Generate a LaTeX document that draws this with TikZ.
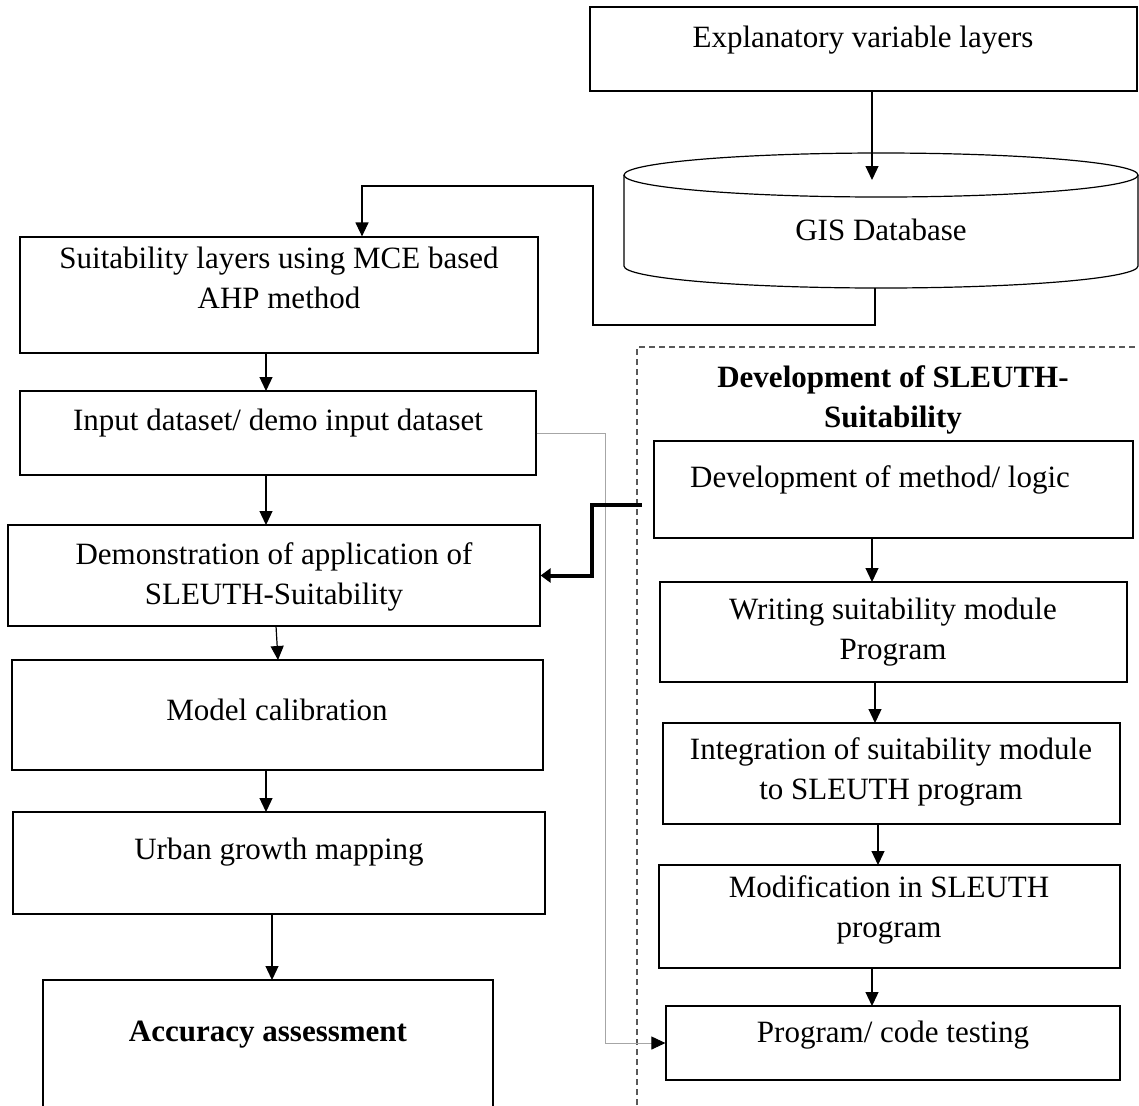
\documentclass[tikz,border=0pt]{standalone}
\usepackage{fontspec}
\setmainfont{Liberation Serif}
\usetikzlibrary{arrows.meta,fit}

\tikzset{
  box/.style={draw, line width=0.6pt, inner sep=0pt},
  txt/.style={align=center, font=\fontsize{15.5}{20}\selectfont},
  head/.style={align=center, font=\fontsize{15.5}{20}\selectfont\bfseries},
  arr/.style={-{Triangle[length=7pt,width=6.5pt]}, line width=0.6pt},
  thickarr/.style={-{Triangle[length=5pt,width=7pt]}, line width=2pt},
  grayarr/.style={-{Triangle[length=7pt,width=6.5pt,color=black]}, line width=0.5pt, gray!70}
}

\begin{document}
\begin{tikzpicture}[x=0.5pt,y=-0.5pt]
    \useasboundingbox (0,0) rectangle (1139,1105);
    \clip (0,0) rectangle (1139,1105);

    % data sources
    \node[box, fit={(590,7) (1137,91)}] (expl) {};
    \node[txt] (explt) at (863,40) {Explanatory variable layers};

    \draw[line width=0.6pt] (624,175) -- (624,266) arc[start angle=180, end angle=360, x radius=128.5pt, y radius=11pt] -- (1138,175);
    \draw[line width=0.6pt] (881,175) ellipse [x radius=128.5pt, y radius=11pt];
    \node[txt] (gis) at (881,230) {GIS Database};
    \coordinate (gisin) at (872,180);
    \coordinate (gisout) at (875,288);
    \coordinate (fbk) at (362,186);

    % left column
    \node[box, fit={(20,237) (538,353)}] (suit) {};
    \node[txt] (suitt) at (279,278) {Suitability layers using MCE based\\AHP method};
    \node[box, fit={(20,391) (536,475)}] (input) {};
    \node[txt] (inputt) at (278,423) {Input dataset/ demo input dataset};
    \node[box, fit={(8,525) (540,626)}] (demo) {};
    \node[txt] (demot) at (274,577) {Demonstration of application of\\SLEUTH-Suitability};
    \node[box, fit={(12,660) (543,770)}] (model) {};
    \node[txt] (modelt) at (277,710) {Model calibration};
    \node[box, fit={(13,812) (545,914)}] (urban) {};
    \node[txt] (urbant) at (279,852) {Urban growth mapping};
    \node[box, fit={(43,980) (493,1115)}] (acc) {};
    \node[head] (acct) at (268,1035) {Accuracy assessment};

    % right column
    \draw[dashed, dash pattern=on 3pt off 2pt, black!65, line width=0.6pt] (637,1105) -- (637,347) -- (1139,347);
    \node[head] (devh) at (893,400) {Development of SLEUTH-\\Suitability};
    \node[box, fit={(654,441) (1133,538)}] (dev) {};
    \node[txt] (devt) at (880,480) {Development of method/ logic};
    \node[box, fit={(660,582) (1127,682)}] (write) {};
    \node[txt] (writet) at (893,632) {Writing suitability module\\Program};
    \node[box, fit={(663,723) (1120,824)}] (integ) {};
    \node[txt] (integt) at (891,772) {Integration of suitability module\\to SLEUTH program};
    \node[box, fit={(659,865) (1120,968)}] (modif) {};
    \node[txt] (modift) at (889,910) {Modification in SLEUTH\\program};
    \node[box, fit={(666,1006) (1120,1080)}] (prog) {};
    \node[txt] (progt) at (893,1035) {Program/ code testing};
    \coordinate (thk) at (642,505);
    \coordinate (gbend) at (605,0);

    % connectors
    \draw[arr] (gisin |- expl.south) -- (gisin);
    \draw[arr] (gisout) |- (593,325) |- (fbk) -- (fbk |- suit.north);
    \draw[arr] (266,353) -- (266,391);
    \draw[arr] (266,475) -- (266,525);
    \draw[arr] (276,626) -- (278,660);
    \draw[arr] (266,770) -- (266,812);
    \draw[arr] (272,914) -- (272,980);

    \draw[arr] (872,538) -- (872,582);
    \draw[arr] (875,682) -- (875,723);
    \draw[arr] (878,824) -- (878,865);
    \draw[arr] (872,968) -- (872,1006);

    \draw[grayarr] (input.east) -| (gbend |- prog.west) -- (prog.west);
    \draw[thickarr] (thk) -| (592,540) |- (demo.east);
\end{tikzpicture}
\end{document}
